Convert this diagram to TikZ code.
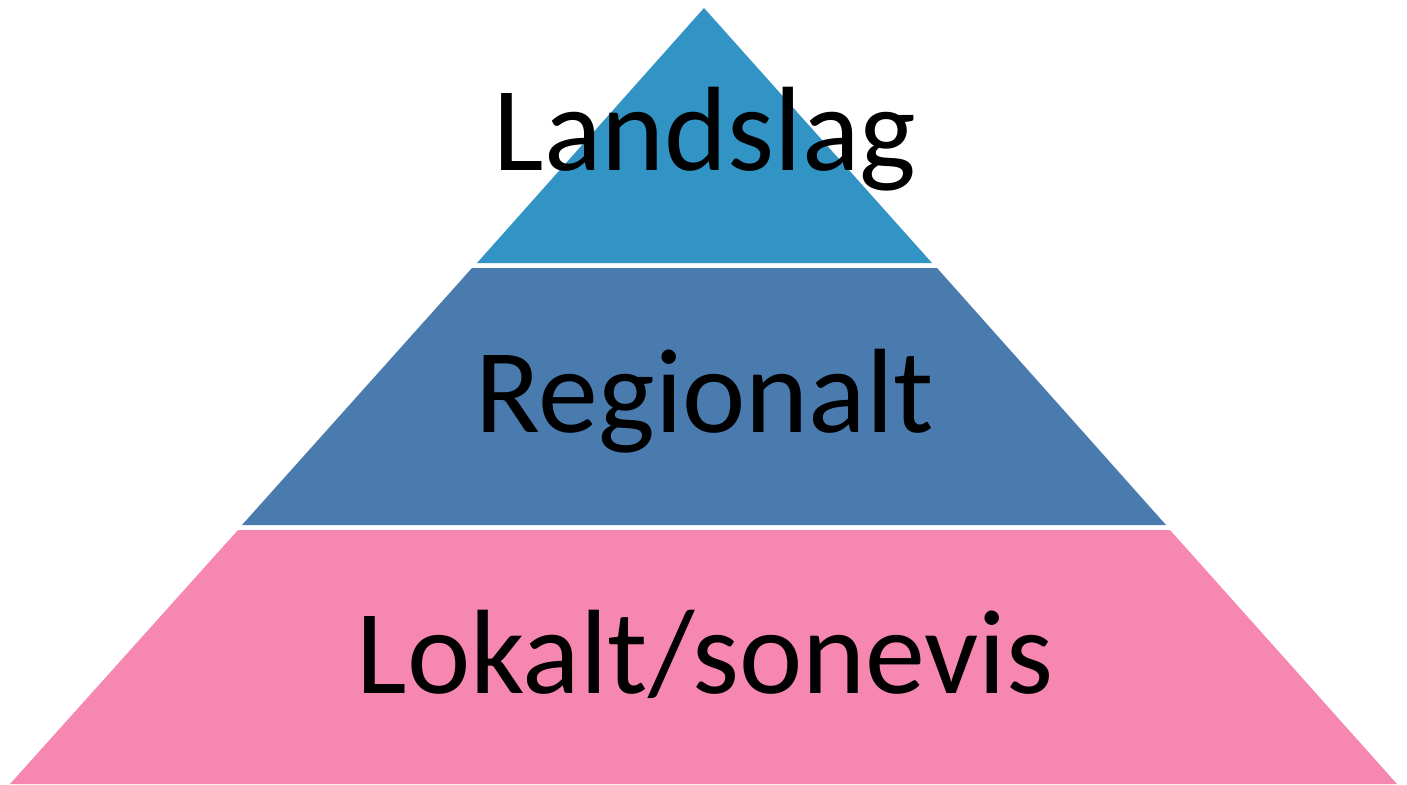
\documentclass[tikz,border=0pt]{standalone}
\usepackage{fontspec}
\setmainfont{Carlito}
\definecolor{topblue}{HTML}{3194C4}
\definecolor{midblue}{HTML}{4A7BAE}
\definecolor{lowpink}{HTML}{F587B1}
\begin{document}
\begin{tikzpicture}[x=1pt,y=-1pt,
  layertext/.style={anchor=base,inner sep=0pt,font=\fontsize{120}{128}\selectfont,text=black}]
\useasboundingbox (0,0) rectangle (1407,784);
\fill[white] (0,0) rectangle (1407,784);
\fill[topblue] (704,8) -- (932,263) -- (477,263) -- cycle;
\fill[midblue] (472,268) -- (937,268) -- (1166,525) -- (242,525) -- cycle;
\fill[lowpink] (238,530) -- (1170,530) -- (1397,784) -- (10,784) -- cycle;
\node[layertext] (landslag) at (705,170) {Landslag};
\node[layertext] (regionalt) at (705,432) {Regionalt};
\node[layertext] (lokalt) at (705,693) {Lokalt/sonevis};
\end{tikzpicture}
\end{document}
